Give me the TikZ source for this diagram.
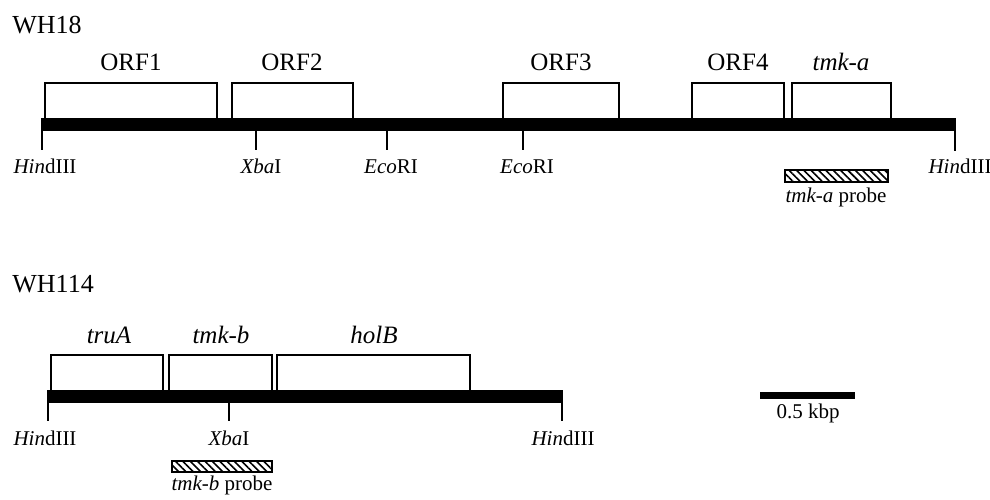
\documentclass[tikz,border=0pt]{standalone}
\usepackage{fontspec}
\setmainfont{Liberation Serif}
\usetikzlibrary{patterns.meta}
\begin{document}
\begin{tikzpicture}[x=0.5pt,y=-0.5pt,
  gene/.style={draw=black,line width=1pt},
  site/.style={line width=1pt},
  sitelabel/.style={anchor=base,font=\fontsize{10.5}{12}\selectfont,inner sep=0pt},
  genelabel/.style={anchor=base,font=\fontsize{12.5}{14}\selectfont,inner sep=0pt},
  title/.style={anchor=base west,font=\fontsize{13}{15}\selectfont,inner sep=0pt},
  probe/.style={draw=black,line width=0.8pt,pattern={Lines[angle=135,distance=2.6pt,line width=0.8pt]}},
]
\useasboundingbox (0,0) rectangle (990,499);

% ---------------- WH18 ----------------
\node[title] (t18) at (12,33) {WH18};
\fill (41,118) rectangle (956,131);
\draw[gene] (45,118) |- (217,83) -- (217,118);
\draw[gene] (232,118) |- (353,83) -- (353,118);
\draw[gene] (503,118) |- (619,83) -- (619,118);
\draw[gene] (692,118) |- (784,83) -- (784,118);
\draw[gene] (792,118) |- (891,83) -- (891,118);
\node[genelabel] (orf1) at (131,70) {ORF1};
\node[genelabel] (orf2) at (292,70) {ORF2};
\node[genelabel] (orf3) at (561,70) {ORF3};
\node[genelabel] (orf4) at (738,70) {ORF4};
\node[genelabel] (tmka) at (841,70) {\itshape tmk-a};
\draw[site] (42,131) -- (42,150);
\draw[site] (256,131) -- (256,150);
\draw[site] (387,131) -- (387,150);
\draw[site] (523,131) -- (523,150);
\draw[site] (955,131) -- (955,151);
\node[sitelabel] (h18a) at (45,173) {{\itshape Hin}dIII};
\node[sitelabel] (x18) at (261,173) {{\itshape Xba}I};
\node[sitelabel] (e18a) at (391,173) {{\itshape Eco}RI};
\node[sitelabel] (e18b) at (527,173) {{\itshape Eco}RI};
\node[sitelabel] (h18b) at (960,173) {{\itshape Hin}dIII};
\draw[probe] (785,170) rectangle (888,182);
\node[sitelabel] (pa) at (836,202) {{\itshape tmk-a} probe};

% ---------------- WH114 ----------------
\node[title] (t114) at (12,292) {WH114};
\fill (47,390) rectangle (563,403);
\draw[gene] (51,390) |- (163,355) -- (163,390);
\draw[gene] (169,390) |- (272,355) -- (272,390);
\draw[gene] (277,390) |- (470,355) -- (470,390);
\node[genelabel] (trua) at (109,343) {\itshape truA};
\node[genelabel] (tmkb) at (221,343) {\itshape tmk-b};
\node[genelabel] (holb) at (374,343) {\itshape holB};
\draw[site] (48,403) -- (48,421);
\draw[site] (229,403) -- (229,421);
\draw[site] (562,403) -- (562,421);
\node[sitelabel] (h114a) at (45,445) {{\itshape Hin}dIII};
\node[sitelabel] (x114) at (229,445) {{\itshape Xba}I};
\node[sitelabel] (h114b) at (563,445) {{\itshape Hin}dIII};
\draw[probe] (172,461) rectangle (272,472);
\node[sitelabel] (pb) at (222,490) {{\itshape tmk-b} probe};

% ---------------- scale ----------------
\fill (760,392) rectangle (855,399);
\node[sitelabel] (scl) at (808,418) {0.5 kbp};
\end{tikzpicture}
\end{document}
